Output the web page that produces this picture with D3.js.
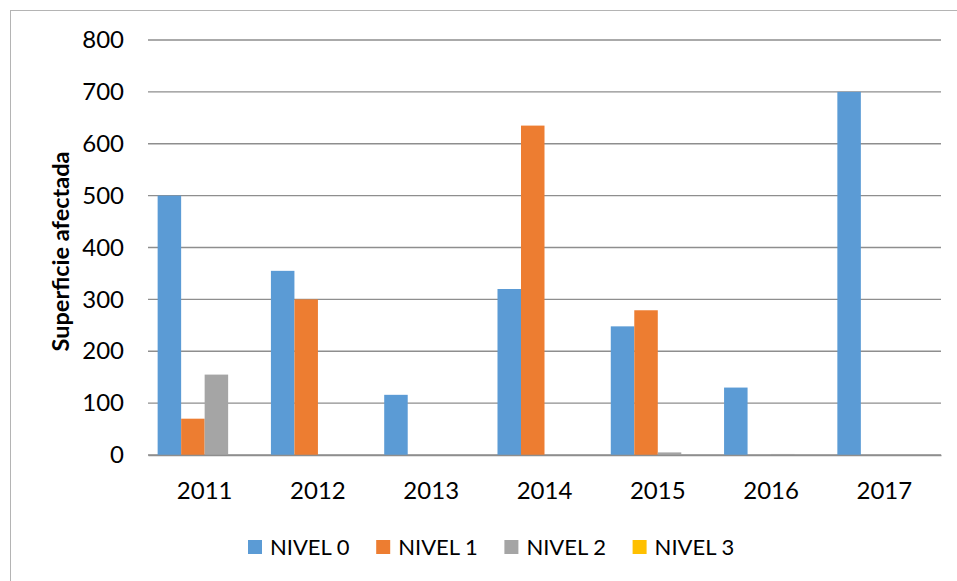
<!DOCTYPE html>
<html>
<head>
<meta charset="utf-8">
<script src="https://cdn.jsdelivr.net/npm/d3@7"></script>
<style>
  html, body { margin: 0; padding: 0; background: #fff; }
  svg { display: block; font-family: Lato, "Open Sans", sans-serif; }
</style>
</head>
<body>
<svg id="chart" width="957" height="581"></svg>
<script>
// Years on the category axis
const years = ["2011", "2012", "2013", "2014", "2015", "2016", "2017"];
// Affected surface per severity level
const nivel0 = [500, 355, 116, 320, 248, 130, 700];
const nivel1 = [70, 300, 0, 635, 279, 0, 0];
const nivel2 = [155, 0, 0, 0, 5, 2, 0];
const nivel3 = [0, 0, 0, 0, 0, 0, 0];
const seriesNames = ["NIVEL 0", "NIVEL 1", "NIVEL 2", "NIVEL 3"];
const seriesColors = ["#5B9BD5", "#ED7D31", "#A5A5A5", "#FFC000"];
const yTicks = [0, 100, 200, 300, 400, 500, 600, 700, 800];
const yTitle = "Superficie afectada";

const seriesValues = [nivel0, nivel1, nivel2, nivel3];
const svg = d3.select("#chart");

// Outer chart frame
svg.append("rect")
  .attr("x", 10.5).attr("y", 10.5)
  .attr("width", 980).attr("height", 620)
  .attr("fill", "none").attr("stroke", "#b4b4b4").attr("stroke-width", 1);

const plot = { left: 148, right: 941, top: 40, bottom: 455 };

const x = d3.scaleBand().domain(years).range([plot.left, plot.right]).padding(0);
const x1 = d3.scaleBand().domain(seriesNames).range([0, x.bandwidth()])
  .paddingInner(0).paddingOuter(0.41);
const y = d3.scaleLinear().domain([0, 800]).range([plot.bottom, plot.top]);

// Horizontal gridlines
svg.append("g").selectAll("line").data(yTicks).join("line")
  .attr("x1", plot.left).attr("x2", plot.right)
  .attr("y1", d => y(d)).attr("y2", d => y(d))
  .attr("stroke", "#8e8e8e").attr("stroke-width", 1.3);

// Y axis labels (no axis line, no ticks)
const yAxis = d3.axisLeft(y).tickValues(yTicks).tickSize(0).tickPadding(24);
const gy = svg.append("g").attr("transform", `translate(${plot.left},0)`).call(yAxis);
gy.select(".domain").remove();
gy.selectAll("text")
  .attr("font-family", "Lato, 'Open Sans', sans-serif")
  .attr("font-size", 24).attr("fill", "#000");

// Bars
const groups = svg.append("g").selectAll("g").data(years).join("g")
  .attr("transform", d => `translate(${x(d)},0)`);
groups.selectAll("rect")
  .data((yr, i) => seriesNames.map((s, k) => ({ s, v: seriesValues[k][i], c: seriesColors[k] })))
  .join("rect")
  .attr("x", d => x1(d.s))
  .attr("width", x1.bandwidth())
  .attr("y", d => y(d.v))
  .attr("height", d => y(0) - y(d.v))
  .attr("fill", d => d.c);

// Category axis line and labels
const xAxis = d3.axisBottom(x).tickSize(0).tickPadding(27);
const gx = svg.append("g").attr("transform", `translate(0,${plot.bottom})`).call(xAxis);
gx.select(".domain").attr("stroke", "#8e8e8e").attr("stroke-width", 1.3);
gx.selectAll("text")
  .attr("font-family", "Lato, 'Open Sans', sans-serif")
  .attr("font-size", 24).attr("fill", "#000");

// Y axis title
svg.append("text")
  .attr("transform", `translate(69,${(plot.top + plot.bottom) / 2 + 4}) rotate(-90)`)
  .attr("text-anchor", "middle")
  .attr("font-size", 23.5).attr("font-weight", "bold").attr("fill", "#000")
  .text(yTitle);

// Legend
const legend = svg.append("g").attr("transform", "translate(248,540)");
const items = legend.selectAll("g").data(seriesNames).join("g")
  .attr("transform", (d, i) => `translate(${i * 128.2},0)`);
items.append("rect").attr("width", 14).attr("height", 14)
  .attr("fill", (d, i) => seriesColors[i]);
items.append("text").attr("x", 22).attr("y", 7).attr("dy", "0.36em")
  .attr("font-size", 22).attr("fill", "#000")
  .text(d => d);
</script>
</body>
</html>
